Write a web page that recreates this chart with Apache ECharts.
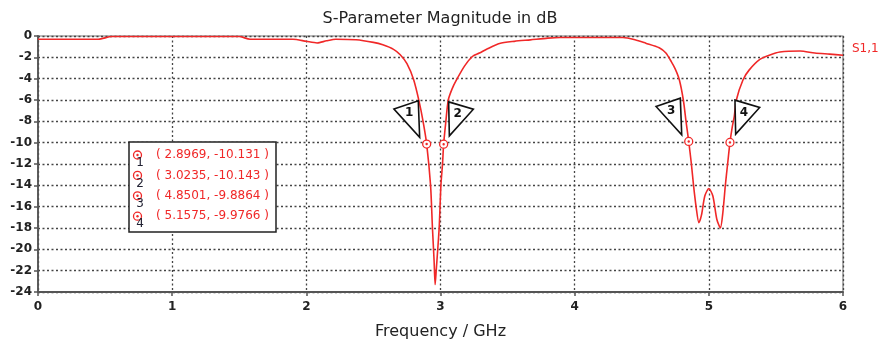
<!DOCTYPE html>
<html>
<head>
<meta charset="utf-8">
<script src="https://cdn.jsdelivr.net/npm/echarts@6/dist/echarts.min.js"></script>
<style>
html,body{margin:0;padding:0;background:#fff;}
#c{width:880px;height:345px;}
</style>
</head>
<body>
<div id="c"></div>
<script>
// ---- data ----
const titleText = "S-Parameter Magnitude in dB";
const xAxisName = "Frequency / GHz";
const seriesName = "S1,1";
const xTicks = [0, 1, 2, 3, 4, 5, 6];
const yTicks = [0, -2, -4, -6, -8, -10, -12, -14, -16, -18, -20, -22, -24];
const freq = [0, 0.2, 0.45, 0.55, 1.0, 1.5, 1.58, 1.9, 2.0, 2.08, 2.15, 2.22, 2.37, 2.5, 2.57, 2.65, 2.70, 2.75, 2.80, 2.84, 2.87, 2.8969, 2.926, 2.94, 2.952, 2.96, 2.968, 2.99, 3.003, 3.015, 3.0235, 3.04, 3.058, 3.085, 3.12, 3.18, 3.24, 3.29, 3.35, 3.44, 3.55, 3.67, 3.8, 3.89, 4.36, 4.45, 4.53, 4.63, 4.68, 4.72, 4.75, 4.78, 4.81, 4.83, 4.8501, 4.87, 4.886, 4.905, 4.926, 4.945, 4.97, 5.0, 5.03, 5.06, 5.086, 5.105, 5.123, 5.14, 5.1575, 5.175, 5.19, 5.205, 5.255, 5.3, 5.38, 5.45, 5.53, 5.68, 5.79, 5.9, 6.0];
const s11 = [-0.3, -0.3, -0.3, -0.05, -0.05, -0.05, -0.3, -0.3, -0.5, -0.65, -0.45, -0.3, -0.35, -0.6, -0.83, -1.25, -1.76, -2.6, -4.1, -6.1, -8.0, -10.131, -14, -18, -21, -23.3, -22, -18, -14, -12, -10.143, -8, -6, -5, -4.1, -2.8, -1.9, -1.6, -1.2, -0.7, -0.5, -0.36, -0.2, -0.14, -0.14, -0.35, -0.67, -1.1, -1.6, -2.4, -3.1, -4.1, -6, -8, -9.8864, -12, -14, -16, -17.5, -16.8, -15, -14.3, -15, -17.2, -18.0, -16.5, -14, -12, -9.9766, -8.5, -7.5, -6, -4.1, -3.2, -2.2, -1.8, -1.5, -1.4, -1.6, -1.7, -1.8];
const markerLabels = ["1", "2", "3", "4"];
const markerFreq = [2.8969, 3.0235, 4.8501, 5.1575];
const markerVal = [-10.131, -10.143, -9.8864, -9.9766];

// ---- chart ----
const RED = '#f02828';
const FONT = 'DejaVu Sans';
const chart = echarts.init(document.getElementById('c'), null, {renderer: 'canvas'});

const lineData = freq.map((f, i) => [f, s11[i]]);
const markerData = markerFreq.map((f, i) => [f, markerVal[i], i]);

function markerGlyph(x, y, z) {
  return [
    {type: 'circle', z: z, shape: {cx: x, cy: y, r: 4}, style: {fill: '#fff', stroke: RED, lineWidth: 1.3}},
    {type: 'circle', z: z, shape: {cx: x, cy: y, r: 1.2}, style: {fill: RED}}
  ];
}

// marker table (box) as graphic text
const boxX = 129, boxY = 142, boxW = 147, boxH = 90, rowH = 20.4, ZB = 100;
const boxChildren = [{
  type: 'rect', z: ZB, shape: {x: boxX, y: boxY, width: boxW, height: boxH},
  style: {fill: '#fff', stroke: '#222', lineWidth: 1.5}
}];
markerFreq.forEach((f, i) => {
  const cy = boxY + 13 + i * rowH;
  boxChildren.push(...markerGlyph(boxX + 8.5, cy, ZB + 1));
  boxChildren.push({type: 'text', z: ZB + 1, x: boxX + 11, y: cy + 8, style: {text: markerLabels[i], fill: '#223', font: '12px ' + FONT, textAlign: 'center', textVerticalAlign: 'middle'}});
  boxChildren.push({type: 'text', z: ZB + 1, x: boxX + 27, y: cy, style: {text: '( ' + f.toFixed(4) + ', ' + String(markerVal[i]) + ' )', fill: RED, font: '12px ' + FONT, textVerticalAlign: 'middle'}});
});

const option = {
  backgroundColor: '#fff',
  animation: false,
  title: {text: titleText, left: 'center', top: 6, textStyle: {fontFamily: FONT, fontSize: 16, fontWeight: 'normal', color: '#222'}},
  legend: {data: [{name: seriesName, icon: 'none'}], left: 842, top: 37, itemWidth: 0, itemGap: 0,
    textStyle: {color: RED, fontFamily: FONT, fontSize: 12}},
  grid: {left: 38, right: 37, top: 36, bottom: 52, show: true, borderColor: '#777', borderWidth: 1.2, backgroundColor: '#fff'},
  xAxis: {
    type: 'value', min: 0, max: 6, interval: 1,
    name: xAxisName, nameLocation: 'middle', nameGap: 32,
    nameTextStyle: {fontFamily: FONT, fontSize: 16, color: '#222'},
    axisLine: {show: true, onZero: false, lineStyle: {color: '#555', width: 1.8}},
    axisTick: {show: true, length: 4, lineStyle: {color: '#555', width: 1.5}},
    axisLabel: {fontFamily: FONT, fontSize: 12, fontWeight: 'bold', color: '#222', margin: 9,
      formatter: v => xTicks.includes(v) ? String(v) : ''},
    splitLine: {show: true, lineStyle: {type: [2, 2.5], color: '#444', width: 1.3}}
  },
  yAxis: {
    type: 'value', min: -24, max: 0, interval: 2,
    axisLine: {show: true, onZero: false, lineStyle: {color: '#555', width: 1.8}},
    axisTick: {show: true, length: 4, lineStyle: {color: '#555', width: 1.5}},
    axisLabel: {fontFamily: FONT, fontSize: 12, fontWeight: 'bold', color: '#222', margin: 6,
      formatter: v => yTicks.includes(v) ? String(v) : ''},
    splitLine: {show: true, lineStyle: {type: [2, 2.5], color: '#444', width: 1.3}}
  },
  series: [
    {
      name: seriesName, type: 'line', data: lineData, showSymbol: false, smooth: 0.25,
      lineStyle: {color: RED, width: 1.6}, itemStyle: {color: RED}, z: 3
    },
    {
      name: 'markers', type: 'custom', data: markerData, z: 5,
      renderItem: function (params, api) {
        const p = api.coord([api.value(0), api.value(1)]);
        const i = api.value(2);
        const left = i % 2 === 0;
        const tri = left ? [[-32.7, -35], [-8.4, -43.3], [-7, -6.7]] : [[5, -42.3], [29.7, -35], [5.7, -8.3]];
        const lab = left ? [-17.5, -31] : [14, -30];
        return {
          type: 'group',
          children: [
            {type: 'polygon', shape: {points: tri.map(o => [p[0] + o[0], p[1] + o[1]])},
              style: {fill: '#fff', stroke: '#111', lineWidth: 1.6}},
            {type: 'text', x: p[0] + lab[0], y: p[1] + lab[1],
              style: {text: markerLabels[i], fill: '#111', font: 'bold 12px ' + FONT, textAlign: 'center', textVerticalAlign: 'middle'}},
            ...markerGlyph(p[0], p[1], 0)
          ]
        };
      }
    }
  ],
  graphic: [{type: 'group', z: 100, children: boxChildren}]
};
chart.setOption(option);
</script>
</body>
</html>
